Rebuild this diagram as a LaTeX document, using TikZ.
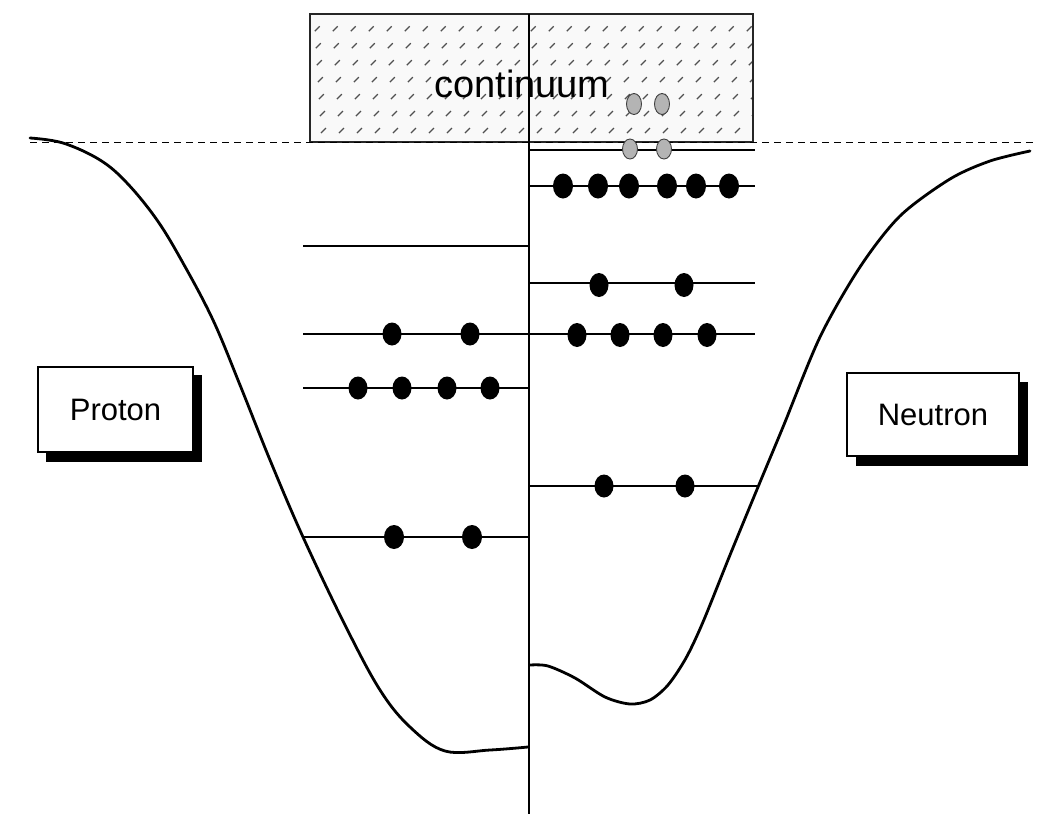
\documentclass[tikz,border=0pt]{standalone}
\usepackage{fontspec}
\setmainfont{Liberation Sans}
\definecolor{dotgray}{HTML}{B4B4B4}
\definecolor{hatchgray}{HTML}{505050}
\tikzset{
  level/.style={line width=1.4pt, black},
  axisline/.style={line width=2.4pt, black},
  well/.style={line width=2.8pt, black, line join=round, line cap=round},
  hatchmark/.style={line width=1.3pt, hatchgray, dash pattern=on 7pt off 17pt},
  dotp/.style={fill=black},
  dotg/.style={fill=dotgray, draw=black!75, line width=0.9pt},
  labelbox/.style={draw=black, line width=1.8pt, fill=white, font=\fontsize{31}{35}\selectfont, inner sep=0pt},
}
\begin{document}
\begin{tikzpicture}[x=1pt,y=-1pt]
\useasboundingbox (0,0) rectangle (1039,833);
% continuum box
\fill[gray!5] (310,14) rectangle (753,142);
\begin{scope}
  \clip (310,14) rectangle (753,142);
  \foreach \c in {160,178,...,760} {
    \draw[hatchmark] (\c,150) -- ++(150,-150);
  }
\end{scope}
\draw[line width=1.6pt, black!85] (310,14) rectangle (753,142);
\node[font=\fontsize{38}{42}\selectfont, anchor=base, inner sep=0pt] (cont) at (522,97) {continuum};
% dashed threshold
\draw[line width=1pt, dash pattern=on 7pt off 5pt] (30,142) -- (1035,142);
% well
\draw[well] plot[smooth, tension=0.6] coordinates {(30,138) (63,143) (100,160) (127,183) (157,220) (183,263) (213,320) (240,385) (270,460) (303,537) (345,625) (380,690) (410,727) (445,751) (490,750) (528,747)};
\draw[well] plot[smooth, tension=0.5] coordinates {(530,665) (548,666) (575,678) (605,697) (630,704) (650,700) (668,685) (686,658) (703,622) (730,555) (758,487) (783,427) (820,337) (860,267) (900,216) (950,179) (990,161) (1030,151)};
% axis
\draw[axisline] (529,14) -- (529,814);
% proton levels
\draw[level] (303,246) -- (529,246);
\draw[level] (303,334) -- (529,334);
\draw[level] (303,388) -- (529,388);
\draw[level] (303,537) -- (529,537);
% neutron levels
\draw[level] (529,150) -- (755,150);
\draw[level] (529,186) -- (755,186);
\draw[level] (529,283) -- (755,283);
\draw[level] (529,334) -- (755,334);
\draw[level] (529,486) -- (758,486);
% proton dots
\foreach \x in {392,470} \fill[dotp] (\x,334) ellipse [x radius=9.5, y radius=11.5];
\foreach \x in {358,402,447,490} \fill[dotp] (\x,388) ellipse [x radius=9.5, y radius=11.5];
\foreach \x in {394,472} \fill[dotp] (\x,537) ellipse [x radius=10, y radius=12];
% neutron dots
\foreach \x in {563,598,629,667,696,729} \fill[dotp] (\x,186) ellipse [x radius=10, y radius=12.5];
\foreach \x in {599,684} \fill[dotp] (\x,285) ellipse [x radius=9.5, y radius=12];
\foreach \x in {577,620,663,707} \fill[dotp] (\x,335) ellipse [x radius=9.5, y radius=12];
\foreach \x in {604,685} \fill[dotp] (\x,486) ellipse [x radius=9.5, y radius=11.5];
% gray dots
\foreach \x in {634,662} \filldraw[dotg] (\x,104) ellipse [x radius=7.5, y radius=10.5];
\foreach \x in {630,664} \filldraw[dotg] (\x,149) ellipse [x radius=7.5, y radius=10];
% label boxes with shadow
\fill[black] (46,375) rectangle (202,462);
\node[labelbox, minimum width=155pt, minimum height=85pt] (proton) at (115.5,409.5) {Proton};
\fill[black] (856,382) rectangle (1028,466);
\node[labelbox, minimum width=172pt, minimum height=83pt] (neutron) at (933,414.5) {Neutron};
\end{tikzpicture}
\end{document}
